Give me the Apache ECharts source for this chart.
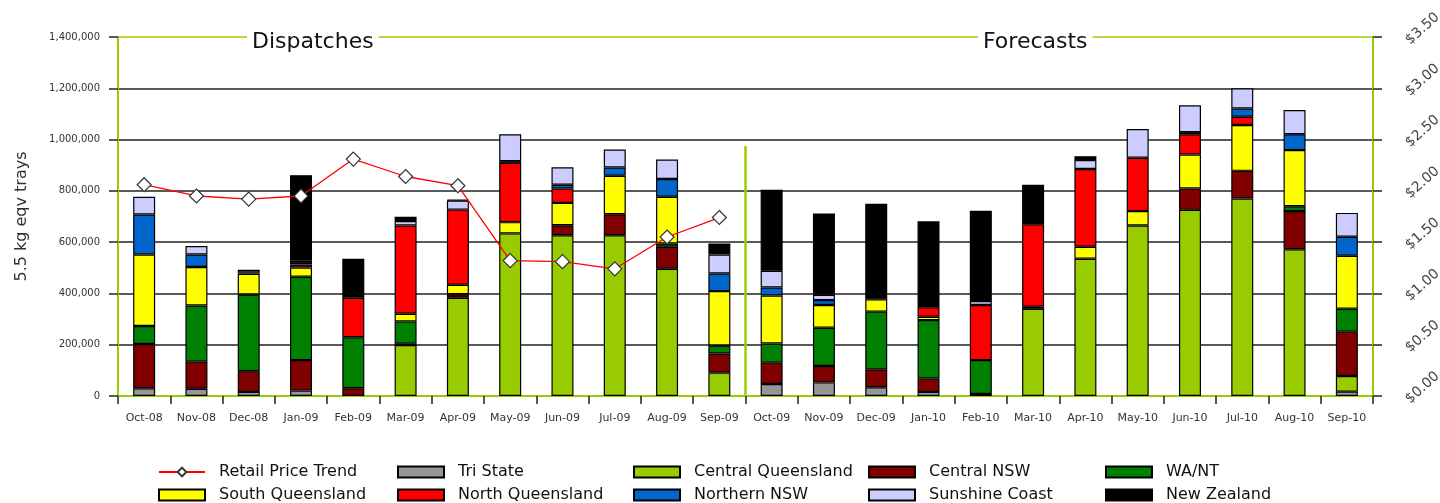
<!DOCTYPE html>
<html>
<head>
<meta charset="utf-8">
<title>Dispatches / Forecasts</title>
<script src="https://cdn.jsdelivr.net/npm/echarts@6/dist/echarts.min.js"></script>
<style>
  html, body { margin: 0; padding: 0; background: #fff; }
  #chart { width: 1440px; height: 503px; }
</style>
</head>
<body>
<div id="chart"></div>
<script>
// months on the category axis
const months = ['Oct-08', 'Nov-08', 'Dec-08', 'Jan-09', 'Feb-09', 'Mar-09', 'Apr-09', 'May-09', 'Jun-09', 'Jul-09', 'Aug-09', 'Sep-09',
  'Oct-09', 'Nov-09', 'Dec-09', 'Jan-10', 'Feb-10', 'Mar-10', 'Apr-10', 'May-10', 'Jun-10', 'Jul-10', 'Aug-10', 'Sep-10']

// trays per region, stacked bottom to top in this order
const triState = [30000, 28000, 16000, 21000, 0, 0, 0, 0, 0, 0, 0, 0, 47000, 53000, 34000, 16000, 0, 0, 0, 0, 0, 0, 0, 17000]
const centralQueensland = [0, 0, 0, 0, 0, 199000, 383000, 634000, 627000, 627000, 496000, 91000, 0, 0, 0, 0, 0, 340000, 535000, 665000, 726000, 770000, 572000, 61000]
const centralNsw = [173000, 106000, 81000, 119000, 30000, 5000, 14000, 0, 39000, 82000, 86000, 75000, 83000, 64000, 70000, 52000, 8000, 8000, 0, 0, 83000, 108000, 149000, 173000]
const waNt = [70000, 219000, 299000, 325000, 199000, 87000, 0, 0, 0, 0, 13000, 31000, 75000, 149000, 225000, 228000, 132000, 0, 0, 0, 0, 0, 19000, 89000]
const southQueensland = [279000, 150000, 81000, 36000, 0, 30000, 37000, 44000, 87000, 150000, 182000, 212000, 187000, 89000, 48000, 13000, 0, 0, 47000, 56000, 133000, 179000, 219000, 207000]
const northQueensland = [0, 0, 0, 12000, 154000, 344000, 293000, 231000, 56000, 0, 0, 0, 0, 0, 0, 37000, 215000, 322000, 303000, 208000, 79000, 32000, 0, 0]
const northernNsw = [156000, 49000, 5000, 6000, 0, 0, 0, 7000, 15000, 32000, 69000, 69000, 31000, 19000, 0, 0, 0, 0, 0, 0, 8000, 32000, 62000, 74000]
const sunshineCoast = [69000, 33000, 10000, 8000, 0, 17000, 35000, 105000, 68000, 70000, 76000, 74000, 65000, 21000, 0, 0, 15000, 0, 35000, 112000, 105000, 79000, 94000, 93000]
const newZealand = [0, 0, 0, 334000, 152000, 17000, 3000, 0, 0, 0, 0, 43000, 316000, 317000, 373000, 335000, 352000, 154000, 15000, 0, 0, 0, 0, 0]

// retail price ($), dispatch months only
const retailPrice = [2.06, 1.95, 1.92, 1.95, 2.31, 2.14, 2.05, 1.32, 1.31, 1.24, 1.55, 1.74,
  null, null, null, null, null, null, null, null, null, null, null, null]

// axis ticks
const trayTicks = { min: 0, max: 1400000, interval: 200000 }
const priceTicks = { min: 0, max: 3.5, interval: 0.5 }

const green = '#99cc00'
const font = 'DejaVu Sans'

const regions = [
  { name: 'Tri State', data: triState, color: '#969696' },
  { name: 'Central Queensland', data: centralQueensland, color: '#99cc00' },
  { name: 'Central NSW', data: centralNsw, color: '#800000' },
  { name: 'WA/NT', data: waNt, color: '#008000' },
  { name: 'South Queensland', data: southQueensland, color: '#ffff00' },
  { name: 'North Queensland', data: northQueensland, color: '#ff0000' },
  { name: 'Northern NSW', data: northernNsw, color: '#0066cc' },
  { name: 'Sunshine Coast', data: sunshineCoast, color: '#ccccff' },
  { name: 'New Zealand', data: newZealand, color: '#000000' }
]

// legend: 5 columns x 2 rows, one small vertical legend per column
const legendColumns = [
  ['Retail Price Trend', 'South Queensland'],
  ['Tri State', 'North Queensland'],
  ['Central Queensland', 'Northern NSW'],
  ['Central NSW', 'Sunshine Coast'],
  ['WA/NT', 'New Zealand']
]
const legendLeft = [158, 397, 633, 868, 1105]

const legends = legendColumns.map((names, i) => ({
  orient: 'vertical',
  left: legendLeft[i],
  top: 464,
  padding: 0,
  itemWidth: 46,
  itemHeight: 11,
  itemGap: 7,
  textStyle: { fontFamily: font, fontSize: 16, color: '#111', lineHeight: 16, padding: [0, 0, 0, 9] },
  data: names.map(n => (n === 'Retail Price Trend' ? { name: n } : { name: n, icon: 'rect' }))
}))

const chart = echarts.init(document.getElementById('chart'), null, { renderer: 'canvas' })

const option = {
  animation: false,
  backgroundColor: '#fff',
  textStyle: { fontFamily: font },
  // keep the plot box fixed, the slanted $ labels may run off the edge like in the original
  grid: { left: 118, right: 67, top: 37, bottom: 107, outerBoundsMode: 'none' },
  legend: legends,
  xAxis: {
    type: 'category',
    data: months,
    boundaryGap: true,
    axisLine: { show: true, lineStyle: { color: green, width: 2 } },
    axisTick: { show: true, length: 8, lineStyle: { color: '#222', width: 1.5 } },
    axisLabel: { color: '#333', fontSize: 11, margin: 17, interval: 0 },
    splitLine: { show: false }
  },
  yAxis: [
    {
      type: 'value',
      min: trayTicks.min,
      max: trayTicks.max,
      interval: trayTicks.interval,
      name: '5.5 kg eqv trays',
      nameLocation: 'middle',
      nameGap: 88,
      nameTextStyle: { fontSize: 16, color: '#333', fontFamily: font },
      axisLine: { show: true, lineStyle: { color: green, width: 2 } },
      axisTick: { show: true, length: 9, lineStyle: { color: '#222', width: 1.5 } },
      axisLabel: { color: '#333', fontSize: 10, margin: 18 },
      splitLine: {
        show: true,
        // last line is the green frame on top
        lineStyle: { color: ['#222', '#222', '#222', '#222', '#222', '#222', '#222', green], width: 1.5 }
      }
    },
    {
      type: 'value',
      position: 'right',
      min: priceTicks.min,
      max: priceTicks.max,
      interval: priceTicks.interval,
      axisLine: { show: true, lineStyle: { color: green, width: 2 } },
      axisTick: { show: true, length: 9, lineStyle: { color: '#222', width: 1.5 } },
      axisLabel: {
        color: '#444',
        fontSize: 14,
        margin: 30,
        rotate: 42,
        verticalAlign: 'top',
        formatter: v => '$' + v.toFixed(2)
      },
      splitLine: { show: false }
    }
  ],
  series: [
    ...regions.map(r => ({
      name: r.name,
      type: 'bar',
      stack: 'trays',
      barWidth: 22,
      data: r.data.map(v => (v === 0 ? '-' : v)),
      itemStyle: { color: r.color, borderColor: '#000', borderWidth: 1.2 }
    })),
    {
      name: 'Retail Price Trend',
      type: 'line',
      yAxisIndex: 1,
      data: retailPrice,
      z: 10,
      symbol: 'diamond',
      symbolSize: 14,
      showAllSymbol: true,
      lineStyle: { color: '#ff0000', width: 1.3 },
      itemStyle: { color: '#fff', borderColor: '#333', borderWidth: 1.2 }
    }
  ]
}

chart.setOption(option)

// section titles on the top frame + divider between dispatches and forecasts
const xSep = chart.convertToPixel({ xAxisIndex: 0 }, 'Sep-09')
const xOct = chart.convertToPixel({ xAxisIndex: 0 }, 'Oct-09')
const xDivider = (xSep + xOct) / 2
const yDividerTop = chart.convertToPixel({ yAxisIndex: 0 }, 975000)
const yBase = chart.convertToPixel({ yAxisIndex: 0 }, 0)

const titleStyle = {
  fontFamily: font,
  fontSize: 22,
  fill: '#111',
  backgroundColor: '#fff',
  padding: [3, 5, 3, 5],
  verticalAlign: 'middle'
}

chart.setOption({
  graphic: [
    {
      type: 'line',
      z: 50,
      shape: { x1: xDivider, y1: yDividerTop, x2: xDivider, y2: yBase },
      style: { stroke: green, lineWidth: 2.5 }
    },
    { type: 'text', z: 100, left: 247, top: 28, style: Object.assign({ text: 'Dispatches' }, titleStyle) },
    { type: 'text', z: 100, left: 978, top: 28, style: Object.assign({ text: 'Forecasts' }, titleStyle) }
  ]
})
</script>
</body>
</html>
